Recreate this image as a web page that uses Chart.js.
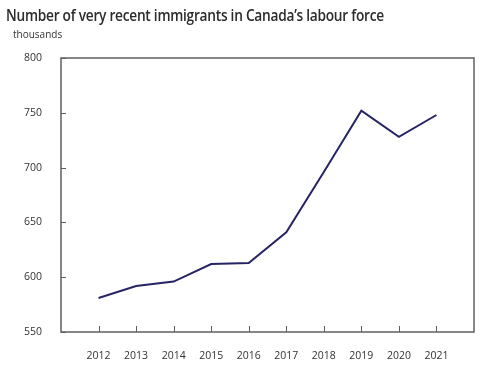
<!DOCTYPE html>
<html>
<head>
<meta charset="utf-8">
<script src="https://cdn.jsdelivr.net/npm/chart.js@4/dist/chart.umd.min.js"></script>
<style>
  html, body { margin: 0; padding: 0; background: #fff; }
  #wrap { position: relative; width: 493px; height: 370px; }
  #title { position: absolute; left: 6px; top: 4px; font-family: "Open Sans", sans-serif; font-weight: 600; font-size: 15.5px; color: #2b2b2b; letter-spacing: -0.3px; white-space: nowrap; transform: scaleX(0.885); transform-origin: left top; }
  #unit { position: absolute; left: 13px; top: 27px; font-family: "Open Sans", sans-serif; font-size: 10px; color: #333; }
</style>
</head>
<body>
<div id="wrap">
  <div id="title">Number of very recent immigrants in Canada’s labour force</div>
  <div id="unit">thousands</div>
  <canvas id="chart" width="493" height="370"></canvas>
</div>
<script>
var years = [2012, 2013, 2014, 2015, 2016, 2017, 2018, 2019, 2020, 2021];
var immigrants = [581, 592, 596, 612, 613, 641, 696, 752, 728, 748];
var yTicks = [550, 600, 650, 700, 750, 800];

// box around plot area, with ticks pointing inward
var frame = {
  id: 'frame',
  afterDraw: function(chart) {
    var ctx = chart.ctx, a = chart.chartArea;
    var xs = chart.scales.x, ys = chart.scales.y;
    ctx.save();
    ctx.strokeStyle = '#5f5f5f';
    ctx.lineWidth = 1.5;
    ctx.strokeRect(a.left, a.top, a.right - a.left, a.bottom - a.top);
    ctx.beginPath();
    years.forEach(function(yr) {
      var px = Math.round(xs.getPixelForValue(yr)) + 0.5;
      ctx.moveTo(px, a.bottom);
      ctx.lineTo(px, a.bottom - 6);
    });
    yTicks.forEach(function(v) {
      var py = Math.round(ys.getPixelForValue(v)) + 0.5;
      ctx.moveTo(a.left, py);
      ctx.lineTo(a.left + 5, py);
    });
    ctx.lineWidth = 1;
    ctx.stroke();
    ctx.restore();
  }
};

var ctx = document.getElementById('chart').getContext('2d');
new Chart(ctx, {
  type: 'line',
  data: {
    datasets: [{
      data: years.map(function(yr, i) { return { x: yr, y: immigrants[i] }; }),
      borderColor: '#272466',
      borderWidth: 2,
      pointRadius: 0,
      tension: 0,
      fill: false
    }]
  },
  options: {
    responsive: false,
    animation: false,
    layout: { padding: { left: 0, top: 58, right: 19, bottom: 0 } },
    plugins: { legend: { display: false }, tooltip: { enabled: false } },
    scales: {
      x: {
        type: 'linear',
        min: 2011,
        max: 2022,
        grid: { display: false },
        border: { display: false },
        afterFit: function(s) { s.height = 38; },
        afterBuildTicks: function(s) { s.ticks = years.map(function(v) { return { value: v }; }); },
        ticks: {
          padding: 10,
          color: '#333',
          font: { family: 'Open Sans', size: 10.5 },
          callback: function(v) { return String(v); }
        }
      },
      y: {
        min: 550,
        max: 800,
        grid: { display: false },
        border: { display: false },
        afterFit: function(s) { s.width = 61; },
        afterBuildTicks: function(s) { s.ticks = yTicks.map(function(v) { return { value: v }; }); },
        ticks: {
          padding: 11,
          color: '#333',
          font: { family: 'Open Sans', size: 10.5 }
        }
      }
    }
  },
  plugins: [frame]
});
</script>
</body>
</html>
